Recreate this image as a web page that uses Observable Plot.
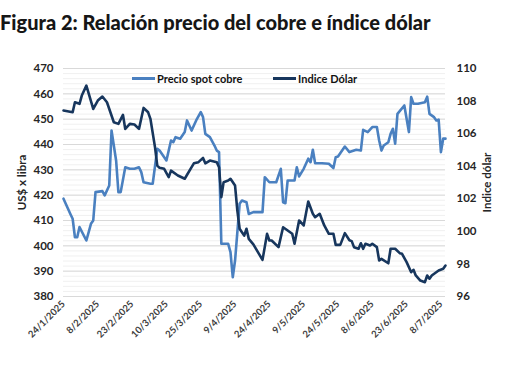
<!DOCTYPE html>
<html><head><meta charset="utf-8">
<script src="https://cdn.jsdelivr.net/npm/d3@7"></script>
<script src="https://cdn.jsdelivr.net/npm/@observablehq/plot@0.6"></script>
<style>
body{margin:0;background:#fff;font-family:Lato, "Open Sans", sans-serif;}
#wrap{position:relative;width:510px;height:365px;overflow:hidden;background:#fff;}
#title{position:absolute;left:0px;top:10px;font-size:20px;font-weight:900;color:#161616;white-space:nowrap;}
#chart{position:absolute;left:0;top:45px;}
.leg{position:absolute;top:72px;font-size:11px;font-weight:700;color:#111;display:flex;align-items:center;white-space:nowrap;}
.leg span.sw{display:inline-block;width:23px;height:0;border-top:3px solid;margin-right:2px;}
</style></head><body>
<div id="wrap">
<div id="title">Figura 2: Relación precio del cobre e índice dólar</div>
<div id="chart"></div>
<div class="leg" id="leg1" style="left:132px"><span class="sw" style="border-color:#4a80c0"></span><span id="l1"></span></div>
<div class="leg" id="leg2" style="left:273px"><span class="sw" style="border-color:#17365d"></span><span id="l2"></span></div>
</div>
<script>
const seriesNames = ["Precio spot cobre", "Indice Dólar"];
const axisTitles = ["US$ x libra", "Indice dólar"];
const xTickLabels = ["24/1","8/2","23/2","10/3","25/3","9/4","24/4","9/5","24/5","8/6","23/6","8/7"];
const xDomain = ["24/1","10/7"];
const leftTicks = [380,390,400,410,420,430,440,450,460,470];
const rightTicks = [96,98,100,102,104,106,108,110];

const copperDates = ["24/1","27/1","28/1","29/1","30/1","31/1","3/2","5/2","6/2","7/2","10/2","11/2","13/2","14/2","16/2","17/2","18/2","20/2","22/2","24/2","26/2","27/2","28/2","3/3","4/3","6/3","7/3","10/3","12/3","13/3","14/3","16/3","18/3","19/3","21/3","23/3","25/3","26/3","27/3","29/3","31/3","1/4","2/4","3/4","6/4","7/4","8/4","9/4","11/4","12/4","14/4","15/4","17/4","21/4","22/4","24/4","27/4","29/4","30/4","1/5","2/5","5/5","6/5","7/5","9/5","11/5","12/5","13/5","14/5","17/5","20/5","22/5","23/5","24/5","27/5","29/5","1/6","3/6","4/6","6/6","8/6","10/6","11/6","12/6","13/6","15/6","16/6","17/6","18/6","19/6","22/6","24/6","25/6","26/6","28/6","1/7","2/7","3/7","5/7","6/7","7/7","8/7","9/7","10/7"];
const copperValues = [418.6,412.6,410.7,403.4,403.4,407.4,402.1,408.7,410,421.2,421.6,419.9,423.8,445.5,433.7,421.2,421.2,431,430.4,430.4,431,429.1,425.1,424.5,424.5,438.3,437.6,433.7,441.6,440.9,442.9,442.3,444.9,449.5,445.5,449.5,452.8,450.8,444.2,442.9,439.6,437.6,437,400.8,400.8,397.5,387.6,394.2,416.6,417.9,417.2,412.6,413.3,413.3,427.1,425.1,425.1,430.4,417.2,416.8,425.8,425.8,431,427.4,430.4,434.4,433,437.9,432.6,432.6,432.4,430.7,435,435.3,439.2,437,437.9,437.6,445.8,444.9,446.9,446.9,441.6,437.6,439.6,440.9,444.2,446.2,440.3,452.1,455.4,444.9,458.7,456.1,456.1,456.7,458.9,452.1,450.8,449.5,449.8,437,442.3,442.3];

const dollarDates = ["24/1","28/1","29/1","31/1","1/2","3/2","6/2","8/2","10/2","12/2","15/2","17/2","19/2","20/2","22/2","24/2","26/2","28/2","2/3","3/3","5/3","6/3","7/3","9/3","11/3","12/3","15/3","18/3","21/3","22/3","24/3","26/3","27/3","29/3","1/4","2/4","3/4","4/4","6/4","7/4","9/4","10/4","11/4","12/4","13/4","14/4","15/4","17/4","21/4","23/4","24/4","25/4","28/4","30/4","2/5","4/5","5/5","7/5","9/5","11/5","13/5","14/5","16/5","18/5","20/5","22/5","23/5","25/5","27/5","29/5","30/5","31/5","2/6","3/6","4/6","5/6","7/6","8/6","10/6","11/6","12/6","15/6","16/6","18/6","20/6","21/6","23/6","25/6","26/6","27/6","29/6","1/7","2/7","3/7","4/7","7/7","9/7","10/7"];
const dollarValues = [107.42,107.31,107.93,107.83,108.34,108.95,107.52,108.03,108.28,107.93,106.7,106.6,107.15,106.29,106.6,106.56,106.29,107.58,107.31,106.91,105.17,104.04,103.9,103.84,103.33,103.73,103.43,103.23,103.94,104.18,104.25,104.51,104.18,104.35,104.25,103.94,102.1,103.02,103.12,103.23,102.81,101.28,100.16,99.95,99.74,100.16,99.54,99.2,98.25,99.85,99.44,99.44,99.03,100.25,100.05,99.85,99.24,100.67,100.36,101.83,101.08,100.87,101.08,100.36,99.85,99.85,99.17,99.17,99.89,99.45,99.4,99.03,98.93,99.27,98.93,99.24,99.13,99.24,99.03,98.21,98.31,98.04,98.93,98.93,98.66,98.62,98.11,97.49,97.64,97.29,96.98,96.88,97.29,97.09,97.29,97.6,97.7,97.9];

const parseDM = s => { const [d, m] = s.split("/").map(Number); return new Date(Date.UTC(2025, m - 1, d)); };
const copper = copperDates.map((d, i) => ({date: parseDM(d), value: copperValues[i]}));
const dolToLeft = d3.scaleLinear([rightTicks[0], rightTicks[rightTicks.length-1]], [leftTicks[0], leftTicks[leftTicks.length-1]]);
const dollar = dollarDates.map((d, i) => ({date: parseDM(d), value: dollarValues[i], y: dolToLeft(dollarValues[i])}));
const minorTicks = d3.range(leftTicks[0], leftTicks[leftTicks.length-1] + 0.1, 2);

const tickFont = {fontSize: 11.5, fontWeight: "bold", fill: "#262626"};

const chart = Plot.plot({
  width: 510, height: 320,
  marginTop: 23, marginBottom: 69, marginLeft: 63, marginRight: 65,
  style: {fontFamily: "Lato, 'Open Sans', sans-serif", background: "#fff", overflow: "visible"},
  x: {type: "utc", domain: xDomain.map(parseDM)},
  y: {domain: [leftTicks[0], leftTicks[leftTicks.length-1]]},
  marks: [
    Plot.gridY(minorTicks, {stroke: "#f0f0f0", strokeOpacity: 1}),
    Plot.gridY(leftTicks, {stroke: "#d9d9d9", strokeOpacity: 1}),
    Plot.axisY(leftTicks, {anchor: "left", tickSize: 0, tickPadding: 10, label: null, ...tickFont}),
    Plot.axisY(rightTicks.map(dolToLeft), {anchor: "right", tickSize: 0, tickPadding: 11, label: null,
      tickFormat: d => Math.round(dolToLeft.invert(d)), ...tickFont}),
    Plot.axisX(xTickLabels.map(parseDM), {tickSize: 0, tickPadding: 6, tickRotate: -45, label: null,
      tickFormat: d3.utcFormat("%-d/%-m/%Y"), fontSize: 9.5, fontWeight: "bold", fill: "#404040"}),
    Plot.text([axisTitles[0]], {frameAnchor: "left", textAnchor: "middle", rotate: -90, dx: -41, text: d => d, fontSize: 11.5, fontWeight: "bold", fill: "#262626"}),
    Plot.text([axisTitles[1]], {frameAnchor: "right", textAnchor: "middle", rotate: -90, dx: 42, text: d => d, fontSize: 11.5, fontWeight: "bold", fill: "#262626"}),
    Plot.line(copper, {x: "date", y: "value", stroke: "#4a80c0", strokeWidth: 2.6, strokeLinejoin: "round"}),
    Plot.line(dollar, {x: "date", y: "y", stroke: "#17365d", strokeWidth: 2.6, strokeLinejoin: "round"})
  ]
});
document.getElementById("chart").appendChild(chart);
document.getElementById("l1").textContent = seriesNames[0];
document.getElementById("l2").textContent = seriesNames[1];
</script>
</body></html>
